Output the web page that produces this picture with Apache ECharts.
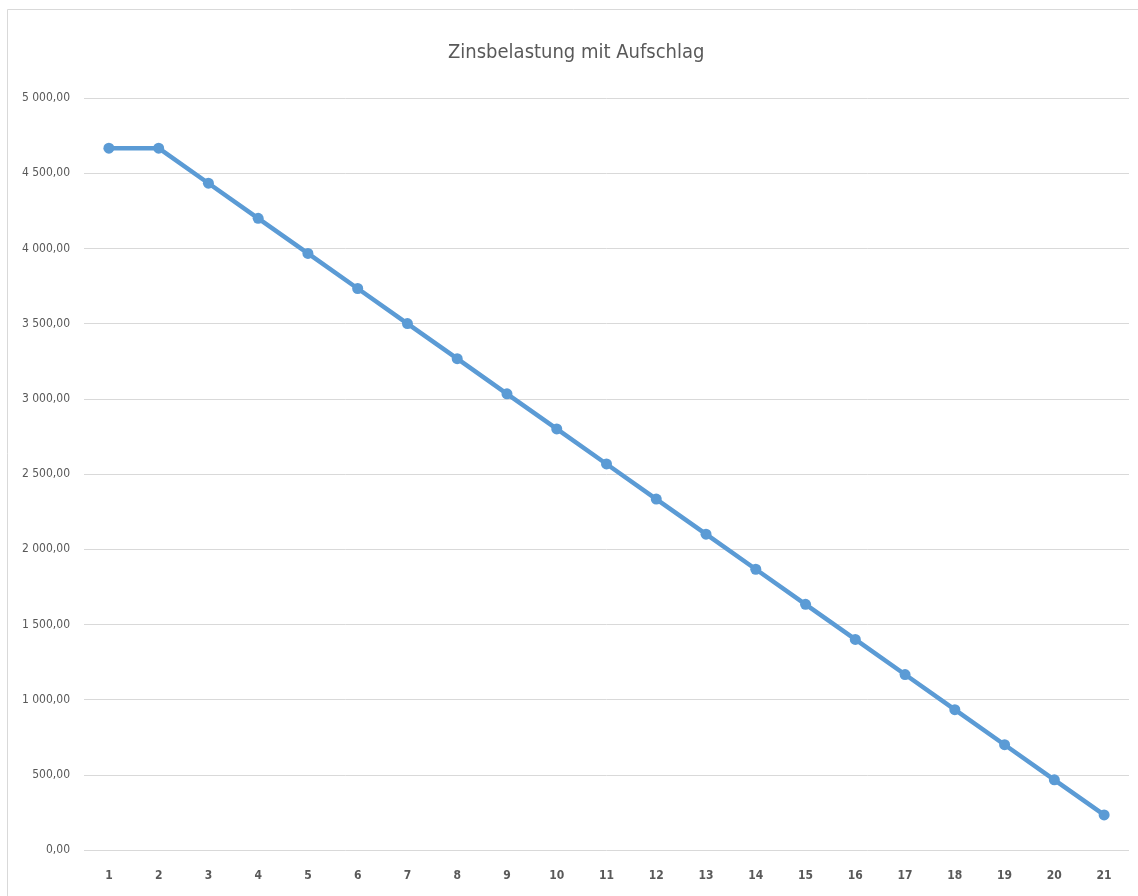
<!DOCTYPE html>
<html>
<head>
<meta charset="utf-8">
<script src="https://cdn.jsdelivr.net/npm/echarts@6/dist/echarts.min.js"></script>
<style>
  html, body { margin: 0; padding: 0; background: #ffffff; }
  #chart { width: 1138px; height: 896px; }
</style>
</head>
<body>
<div id="chart"></div>
<script>
// Periods 1..21 and the interest charge per period
const periods = ['1','2','3','4','5','6','7','8','9','10','11','12','13','14','15','16','17','18','19','20','21'];
const zinsbelastung = [4666.67, 4666.67, 4433.33, 4200.00, 3966.67, 3733.33, 3500.00, 3266.67, 3033.33, 2800.00,
                       2566.67, 2333.33, 2100.00, 1866.67, 1633.33, 1400.00, 1166.67, 933.33, 700.00, 466.67, 233.33];
const chartTitle = 'Zinsbelastung mit Aufschlag';

// German number format: space as thousands separator, comma for decimals
function formatDe(v) {
  const parts = v.toFixed(2).split('.');
  const intPart = parts[0].replace(/\B(?=(\d{3})+(?!\d))/g, ' ');
  return intPart + ',' + parts[1];
}

const chart = echarts.init(document.getElementById('chart'), null, { renderer: 'canvas' });
const font = '"DejaVu Sans Condensed", "Liberation Sans Narrow", "Open Sans", sans-serif';

chart.setOption({
  backgroundColor: '#ffffff',
  animation: false,
  graphic: [{
    type: 'rect',
    shape: { x: 7.5, y: 9.5, width: 1140, height: 900 },
    style: { fill: 'none', stroke: '#d9d9d9', lineWidth: 1 },
    silent: true
  }],
  title: {
    text: chartTitle,
    left: 443,
    top: 38,
    textStyle: { fontFamily: font, fontSize: 20, fontWeight: 'normal', color: '#595959' }
  },
  grid: { left: 84, right: 9, top: 98, bottom: 46, containLabel: false },
  xAxis: {
    type: 'category',
    data: periods,
    boundaryGap: true,
    axisLine: { show: false },
    axisTick: { show: false },
    axisLabel: { fontFamily: font, fontSize: 12, fontWeight: 'bold', color: '#595959', margin: 20 },
    splitLine: { show: false }
  },
  yAxis: {
    type: 'value',
    min: 0,
    max: 5000,
    interval: 500,
    axisLine: { show: false },
    axisTick: { show: false },
    axisLabel: { fontFamily: font, fontSize: 12, color: '#595959', margin: 14, formatter: formatDe },
    splitLine: { lineStyle: { color: '#d9d9d9', width: 1 } }
  },
  series: [{
    type: 'line',
    data: zinsbelastung,
    symbol: 'circle',
    symbolSize: 11,
    lineStyle: { color: '#5b9bd5', width: 4.5 },
    itemStyle: { color: '#5b9bd5' }
  }]
});
</script>
</body>
</html>
